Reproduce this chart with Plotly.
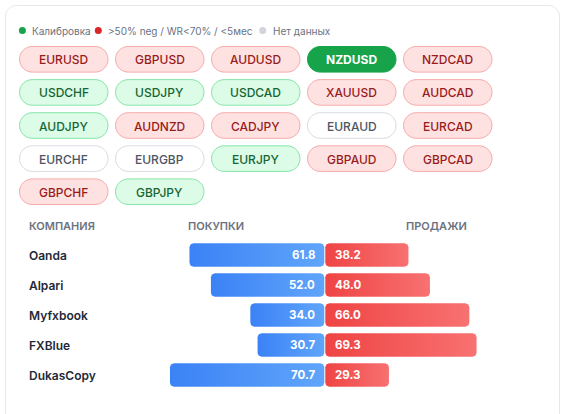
import numpy as np
import plotly.graph_objects as go

W, H = 566, 414
FONT = "Inter"

# ---------------- data ----------------
pairs = ["EURUSD", "GBPUSD", "AUDUSD", "NZDUSD", "NZDCAD",
         "USDCHF", "USDJPY", "USDCAD", "XAUUSD", "AUDCAD",
         "AUDJPY", "AUDNZD", "CADJPY", "EURAUD", "EURCAD",
         "EURCHF", "EURGBP", "EURJPY", "GBPAUD", "GBPCAD",
         "GBPCHF", "GBPJPY"]
pair_status = ["neg", "neg", "neg", "active", "neg",
               "cal", "cal", "cal", "neg", "neg",
               "cal", "neg", "neg", "none", "neg",
               "none", "none", "cal", "neg", "neg",
               "neg", "cal"]

legend_labels = ["Калибровка", ">50% neg / WR&lt;70% / &lt;5мес", "Нет данных"]
legend_colors = ["#16a34a", "#dc2626", "#d1d5db"]

header_labels = ["КОМПАНИЯ", "ПОКУПКИ", "ПРОДАЖИ"]
companies = ["Oanda", "Alpari", "Myfxbook", "FXBlue", "DukasCopy"]
buy = [61.8, 52.0, 34.0, 30.7, 70.7]
sell = [38.2, 48.0, 66.0, 69.3, 29.3]

# ---------------- styles ----------------
STYLE = {
    "neg": dict(fill="#fee2e2", line="#f5aaaa", text="#991b1b", weight=500),
    "cal": dict(fill="#dcfce7", line="#86e4a8", text="#166534", weight=500),
    "active": dict(fill="#16a34a", line="#16a34a", text="#ffffff", weight=700),
    "none": dict(fill="#ffffff", line="#d8dce2", text="#4b5563", weight=500),
}

# layout geometry (screen pixels)
LEGEND_DOT_X = [22.4, 98.3, 262.7]
LEGEND_Y = 30.5
PILL_X0, PILL_Y0, PILL_W, PILL_H, PILL_DX, PILL_DY, NCOL = 19, 46, 89.5, 26.6, 96, 33.1, 5
CENTER_PX, PX_PER_UNIT = 324.8, 2.19
BAR_X_LEFT_PX, BAR_X_RIGHT_PX = 100, 560
ROW_TOP_PX, ROW_H = 240, 30
BAR_FRAC = 0.78


def rr_path(x0, y0, x1, y1, r):
    k = 0.5523 * r
    return (f"M{x0+r},{y0} L{x1-r},{y0} C{x1-r+k},{y0} {x1},{y0+r-k} {x1},{y0+r} "
            f"L{x1},{y1-r} C{x1},{y1-r+k} {x1-r+k},{y1} {x1-r},{y1} "
            f"L{x0+r},{y1} C{x0+r-k},{y1} {x0},{y1-r+k} {x0},{y1-r} "
            f"L{x0},{y0+r} C{x0},{y0+r-k} {x0+r-k},{y0} {x0+r},{y0} Z")


def rr_poly(x0, x1, y0, y1, rx, ry, n=8):
    xs, ys = [], []
    corners = [(x1 - rx, y0 + ry, -np.pi / 2, 0),
               (x1 - rx, y1 - ry, 0, np.pi / 2),
               (x0 + rx, y1 - ry, np.pi / 2, np.pi),
               (x0 + rx, y0 + ry, np.pi, 1.5 * np.pi)]
    for cx, cy, a0, a1 in corners:
        t = np.linspace(a0, a1, n)
        xs.extend(cx + rx * np.cos(t))
        ys.extend(cy + ry * np.sin(t))
    xs.append(xs[0]); ys.append(ys[0])
    return xs, ys


fig = go.Figure()
shapes, annotations = [], []

# invisible anchor trace for the pixel axes (x/y)
fig.add_trace(go.Scatter(x=[0, W], y=[0, H], mode="markers", marker=dict(opacity=0),
                         hoverinfo="skip", showlegend=False, xaxis="x", yaxis="y"))

# card
shapes.append(dict(type="path", xref="x", yref="y", layer="below",
                   path=rr_path(5.5, 5.5, 559.5, 440, 11),
                   fillcolor="#ffffff", line=dict(color="#e5e7eb", width=1)))

# legend
fig.add_trace(go.Scatter(x=LEGEND_DOT_X, y=[LEGEND_Y] * len(LEGEND_DOT_X), mode="markers",
                         marker=dict(size=7, color=legend_colors, line=dict(width=0)),
                         hoverinfo="skip", showlegend=False, xaxis="x", yaxis="y"))
for lab, dx in zip(legend_labels, LEGEND_DOT_X):
    annotations.append(dict(xref="x", yref="y", x=dx + 8, y=LEGEND_Y, xanchor="left", yanchor="middle",
                            text=lab, showarrow=False,
                            font=dict(family=FONT, size=10, color="#6b7280")))

# pills
for i, (p, s) in enumerate(zip(pairs, pair_status)):
    r, c = divmod(i, NCOL)
    x0 = PILL_X0 + c * PILL_DX
    y0 = PILL_Y0 + r * PILL_DY
    st = STYLE[s]
    shapes.append(dict(type="path", xref="x", yref="y", layer="below",
                       path=rr_path(x0 + 0.5, y0 + 0.5, x0 + PILL_W - 0.5, y0 + PILL_H - 0.5, PILL_H / 2 - 0.5),
                       fillcolor=st["fill"], line=dict(color=st["line"], width=1)))
    annotations.append(dict(xref="x", yref="y", x=x0 + PILL_W / 2, y=y0 + PILL_H / 2 + 0.5,
                            text=p, showarrow=False, xanchor="center", yanchor="middle",
                            font=dict(family=FONT, size=12, color=st["text"], weight=st["weight"])))

# table header
header_x = [27, 185.5, 404]
for lab, hx in zip(header_labels, header_x):
    annotations.append(dict(xref="x", yref="y", x=hx, y=226, text=lab, showarrow=False,
                            xanchor="left", yanchor="middle",
                            font=dict(family=FONT, size=11, color="#6b7280", weight=600)))

# bars (x2/y2)
rx = 4 / PX_PER_UNIT
ry = 4 / ROW_H
gap = 0.5 / PX_PER_UNIT
hb = BAR_FRAC / 2
for i, (name, b, s) in enumerate(zip(companies, buy, sell)):
    xs, ys = rr_poly(-b, -gap, i - hb, i + hb, rx, ry)
    fig.add_trace(go.Scatter(x=xs, y=ys, fill="toself", mode="lines", line=dict(width=0),
                             fillgradient=dict(type="horizontal",
                                               colorscale=[[0, "#3b82f6"], [1, "#60a5fa"]]),
                             hoverinfo="skip", showlegend=False, xaxis="x2", yaxis="y2"))
    xs, ys = rr_poly(gap, s, i - hb, i + hb, rx, ry)
    fig.add_trace(go.Scatter(x=xs, y=ys, fill="toself", mode="lines", line=dict(width=0),
                             fillgradient=dict(type="horizontal",
                                               colorscale=[[0, "#ef4444"], [1, "#f87171"]]),
                             hoverinfo="skip", showlegend=False, xaxis="x2", yaxis="y2"))
    annotations.append(dict(xref="x2", yref="y2", x=0, y=i, text=f"{b:.1f}", showarrow=False,
                            xanchor="right", yanchor="middle", xshift=-8,
                            font=dict(family=FONT, size=11.5, color="#ffffff", weight=700)))
    annotations.append(dict(xref="x2", yref="y2", x=0, y=i, text=f"{s:.1f}", showarrow=False,
                            xanchor="left", yanchor="middle", xshift=8,
                            font=dict(family=FONT, size=11.5, color="#ffffff", weight=700)))
    annotations.append(dict(xref="x", yref="y2", x=27, y=i, text=name, showarrow=False,
                            xanchor="left", yanchor="middle",
                            font=dict(family=FONT, size=12, color="#1f2937", weight=600)))

n = len(companies)
fig.update_layout(
    width=W, height=H, margin=dict(l=0, r=0, t=0, b=0),
    paper_bgcolor="#ffffff", plot_bgcolor="rgba(0,0,0,0)",
    shapes=shapes, annotations=annotations,
    xaxis=dict(domain=[0, 1], range=[0, W], visible=False, fixedrange=True, anchor="y"),
    yaxis=dict(domain=[0, 1], range=[H, 0], visible=False, fixedrange=True, anchor="x"),
    xaxis2=dict(domain=[BAR_X_LEFT_PX / W, BAR_X_RIGHT_PX / W],
                range=[(BAR_X_LEFT_PX - CENTER_PX) / PX_PER_UNIT, (BAR_X_RIGHT_PX - CENTER_PX) / PX_PER_UNIT],
                visible=False, fixedrange=True, anchor="y2"),
    yaxis2=dict(domain=[1 - (ROW_TOP_PX + n * ROW_H) / H, 1 - ROW_TOP_PX / H],
                range=[n - 0.5, -0.5], visible=False, fixedrange=True, anchor="x2"),
    showlegend=False,
)

fig.write_html("out.html", config={"displayModeBar": False},
               post_script="document.body.style.margin='0';document.body.style.overflow='hidden';")
